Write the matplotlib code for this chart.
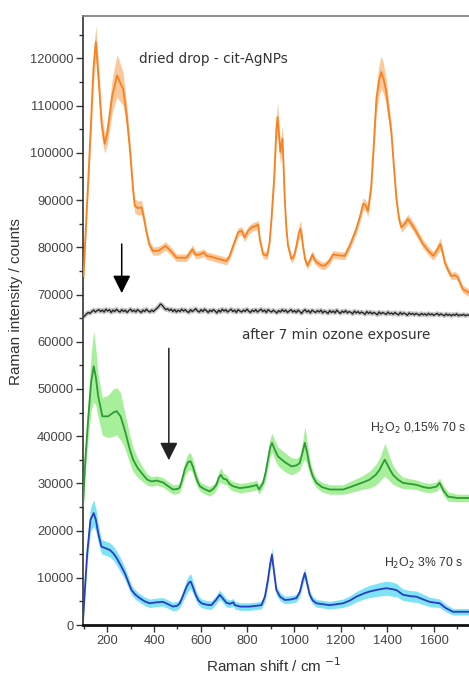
import numpy as np
import matplotlib
matplotlib.use("Agg")
import matplotlib.pyplot as plt
from matplotlib.ticker import MultipleLocator

# ---- spectra: Raman shift (cm-1), mean intensity (counts), half-width of shaded band ----
cit_shift = [97, 124, 140, 150, 160, 175, 188, 200, 220, 241, 255, 267, 282, 296, 310, 317, 330, 346,
             357, 367, 380, 395, 420, 449, 470, 496, 539, 564, 578, 595, 613, 625, 645, 680, 710, 724,
             740, 760, 775, 788, 803, 820, 839, 846, 853, 867, 884, 895, 903, 915, 924, 929, 934, 941,
             950, 955, 960, 967, 974, 989, 1000, 1010, 1020, 1027, 1033, 1038, 1047, 1057, 1068, 1079,
             1088, 1098, 1115, 1131, 1150, 1167, 1190, 1217, 1240, 1267, 1283, 1296, 1305, 1317, 1331,
             1342, 1353, 1365, 1374, 1383, 1393, 1405, 1417, 1428, 1439, 1450, 1460, 1475, 1488, 1500,
             1517, 1535, 1553, 1575, 1596, 1612, 1627, 1637, 1646, 1660, 1674, 1690, 1703, 1715, 1724, 1750]
cit_counts = [73900, 100800, 118000, 123500, 117000, 106000, 101900, 104500, 112000, 116400, 114800,
              113600, 108000, 100800, 92000, 88800, 88300, 88500, 86000, 83200, 80500, 79200, 79300,
              80300, 79300, 77800, 77800, 79600, 78400, 78500, 78900, 78200, 78000, 77500, 77100, 78200,
              80500, 83200, 83500, 82100, 83500, 84300, 84600, 84800, 81700, 78500, 78200, 81000, 86000,
              95000, 105000, 107600, 104500, 100200, 103000, 97000, 90200, 84000, 80300, 77500, 78200,
              80300, 83000, 83900, 82500, 80300, 77500, 76100, 77200, 78500, 77300, 76800, 76200, 76100,
              77000, 78500, 78300, 78200, 80500, 83900, 86600, 89200, 89000, 87700, 93000, 102000,
              111500, 115500, 117100, 115800, 113600, 109000, 104400, 97000, 90200, 86000, 84200, 85000,
              86000, 85200, 83900, 82300, 80700, 79300, 78200, 79300, 80700, 78900, 76800, 75200, 73900,
              74100, 73600, 72000, 71100, 70400]
cit_sd = [1500, 2500, 3200, 3500, 3200, 2500, 2000, 2500, 3500, 4500, 4000, 3500, 2500, 2000, 1500,
          1500, 1500, 1500, 1200, 1000, 900, 900, 900, 900, 900, 800, 800, 900, 800, 800, 800, 800, 800,
          800, 800, 800, 800, 900, 900, 900, 900, 900, 900, 900, 900, 800, 800, 900, 1200, 2000, 2800,
          3200, 2800, 2500, 2600, 2000, 1500, 1200, 900, 800, 800, 900, 1500, 1800, 1400, 1000, 800,
          800, 800, 800, 800, 800, 800, 800, 800, 800, 800, 800, 900, 1000, 1100, 1200, 1200, 1200,
          1500, 2200, 3000, 3300, 3500, 3200, 2800, 2200, 1800, 1400, 1200, 1000, 1000, 1000, 1000,
          1000, 1000, 900, 900, 900, 900, 1000, 1300, 1000, 900, 800, 800, 800, 800, 800, 800, 800]

# ozone-exposed spectrum (hundreds of counts), sampled evenly from 95 to 1750 cm-1
ozone_hundreds = [652, 655, 659, 662, 660, 664, 667, 663, 666, 668, 664, 667, 663, 669, 665, 668, 662, 667, 664, 669,
                  665, 663, 668, 664, 667, 662, 666, 669, 664, 667, 663, 668, 665, 662, 667, 664, 669, 665, 663, 667,
                  664, 668, 671, 675, 680, 677, 672, 668, 670, 666, 669, 664, 668, 663, 667, 664, 669, 665, 668, 664,
                  662, 668, 664, 667, 670, 665, 663, 668, 664, 669, 666, 662, 667, 664, 668, 665, 661, 667, 663, 669,
                  665, 668, 663, 666, 669, 664, 667, 662, 668, 665, 663, 667, 664, 669, 665, 662, 667, 664, 668, 663,
                  666, 669, 664, 667, 662, 668, 665, 663, 667, 664, 661, 666, 663, 668, 664, 667, 662, 665, 668, 663,
                  666, 662, 667, 664, 660, 665, 668, 663, 666, 661, 667, 664, 662, 666, 663, 667, 661, 665, 663, 660,
                  666, 662, 665, 661, 667, 663, 660, 665, 662, 666, 661, 664, 662, 659, 665, 661, 664, 660, 663, 661,
                  658, 664, 660, 663, 659, 662, 660, 657, 663, 659, 662, 660, 658, 663, 659, 661, 658, 662, 659, 657,
                  662, 658, 661, 659, 656, 661, 658, 660, 657, 660, 658, 656, 660, 657, 659, 656, 660, 657, 659, 656,
                  658, 660, 656, 659, 657, 655, 659, 656, 658, 655, 658, 656, 659, 655, 657, 656, 658, 655, 657, 656]

h2o2_low_shift = [95, 105, 117, 130, 141, 150, 160, 178, 203, 225, 239, 256, 270, 281, 295, 310, 330,
                  353, 370, 389, 410, 438, 460, 481, 500, 510, 520, 531, 545, 556, 566, 574, 585, 596,
                  615, 638, 655, 667, 677, 686, 697, 710, 723, 738, 767, 800, 830, 839, 850, 867, 878,
                  888, 897, 905, 915, 931, 960, 989, 1010, 1024, 1036, 1046, 1056, 1067, 1080, 1096,
                  1120, 1153, 1210, 1240, 1267, 1300, 1324, 1350, 1367, 1380, 1389, 1400, 1410, 1424,
                  1445, 1467, 1524, 1555, 1581, 1610, 1624, 1640, 1660, 1700, 1750]
h2o2_low_counts = [25100, 35000, 43500, 51500, 54800, 52500, 48500, 44200, 44200, 45000, 45300, 44200,
                   42000, 40000, 37300, 35000, 33200, 31800, 30800, 30400, 30600, 30200, 29400, 28700,
                   28800, 29100, 30800, 32900, 34500, 34700, 33600, 32200, 30500, 29400, 28800, 28300,
                   28900, 29700, 31200, 31800, 31000, 30800, 29900, 29400, 29000, 29200, 29500, 29700,
                   28700, 30100, 32300, 35000, 37500, 38600, 37400, 35700, 34500, 33600, 33800, 34300,
                   36500, 38600, 36500, 33600, 31500, 30100, 29200, 28700, 28700, 29200, 29700, 30300,
                   30800, 31800, 32900, 34200, 35000, 34000, 33000, 31800, 30800, 30100, 29700, 29200,
                   29000, 29300, 30100, 28500, 27200, 26900, 26900]
h2o2_low_sd = [1500, 2500, 4000, 6000, 7500, 6000, 4500, 4000, 4500, 5000, 5000, 5000, 4000, 3500,
               3000, 2500, 2000, 1500, 1200, 1000, 1000, 1000, 1000, 1000, 1000, 1000, 1200, 1500,
               1800, 1800, 1500, 1300, 1200, 1000, 1000, 1000, 1000, 1000, 1200, 1500, 1200, 1000,
               1000, 1000, 1000, 1000, 1000, 1000, 1000, 1000, 1500, 1800, 2000, 2000, 2000, 2000,
               2000, 1800, 1500, 1500, 2000, 3500, 2500, 1500, 1200, 1000, 1000, 1000, 1000, 1200,
               1300, 1500, 1800, 2200, 2500, 3000, 3500, 3000, 2500, 2000, 1500, 1200, 1000, 1000,
               1000, 1000, 1000, 1000, 1000, 800, 800]

h2o2_high_shift = [95, 105, 113, 127, 141, 150, 160, 174, 190, 210, 225, 239, 255, 274, 290, 303, 320,
                   338, 360, 381, 410, 438, 460, 481, 500, 510, 522, 539, 550, 557, 568, 578, 590, 603,
                   625, 645, 665, 681, 695, 710, 725, 740, 746, 770, 810, 860, 875, 888, 897, 905, 912,
                   924, 940, 960, 985, 1010, 1025, 1037, 1046, 1055, 1067, 1080, 1096, 1153, 1210,
                   1240, 1267, 1300, 1324, 1360, 1396, 1420, 1439, 1467, 1500, 1524, 1555, 1581, 1624,
                   1650, 1681, 1750]
h2o2_high_counts = [800, 9000, 15200, 22300, 23700, 22300, 19500, 16600, 16300, 15900, 15200, 14200,
                    12800, 11000, 9000, 7400, 6400, 5700, 5000, 4600, 4800, 4900, 4400, 3900, 4100,
                    4600, 6000, 8100, 9000, 9200, 7800, 6400, 5200, 4600, 4300, 4200, 5300, 6400, 5600,
                    4700, 4500, 4800, 4200, 3900, 3900, 4200, 6000, 9600, 12800, 14900, 12000, 7400,
                    6000, 5300, 5400, 5700, 7000, 9500, 11000, 9000, 6400, 5200, 4600, 4200, 4600,
                    5200, 6000, 6700, 7100, 7500, 7800, 7600, 7400, 6400, 6100, 6000, 5400, 4900, 4600,
                    3600, 2800, 2800]
h2o2_high_sd = [300, 1500, 2000, 2500, 2800, 2500, 2000, 1500, 1500, 1500, 1500, 1500, 1500, 1300,
                1200, 1000, 1000, 900, 900, 900, 900, 900, 900, 900, 900, 900, 1100, 1500, 1600, 1600,
                1300, 1100, 1000, 900, 900, 900, 900, 1000, 900, 900, 800, 800, 800, 800, 800, 800,
                1000, 1200, 1300, 1400, 1200, 1000, 900, 800, 800, 800, 900, 1000, 1100, 1000, 900,
                800, 800, 800, 900, 1000, 1100, 1200, 1300, 1400, 1500, 1500, 1400, 1200, 1200, 1200,
                1100, 1000, 900, 800, 700, 700]

x_ticks = [200, 400, 600, 800, 1000, 1200, 1400, 1600]

# ---- figure ----
W, H = 469, 674
fig = plt.figure(figsize=(W / 100, H / 100), dpi=100)
ax = fig.add_axes([83 / W, (H - 625) / H, 1 - 83 / W, (625 - 16) / H])
ax.set_xlim(95, 1750)
ax.set_ylim(0, 129000)

def band(shift, counts, sd, line_c, fill_c, lw=1.3):
    s = np.asarray(shift, float)
    c = np.asarray(counts, float)
    d = np.asarray(sd, float)
    ax.fill_between(s, c - d, c + d, color=fill_c, lw=0, zorder=2)
    ax.plot(s, c, color=line_c, lw=lw, zorder=3)

band(cit_shift, cit_counts, cit_sd, "#f7821f", "#fcc79a")
band(h2o2_low_shift, h2o2_low_counts, h2o2_low_sd, "#2e9b34", "#a8ef9c")
band(h2o2_high_shift, h2o2_high_counts, h2o2_high_sd, "#2a3cc4", "#7fe3f6")

ozone_counts = np.asarray(ozone_hundreds, float) * 100
ozone_shift = np.linspace(95, 1750, len(ozone_counts))
ax.plot(ozone_shift, ozone_counts, color="#8c8c8c", lw=3.2, alpha=0.5, zorder=3)
ax.plot(ozone_shift, ozone_counts, color="#262626", lw=1.0, zorder=4)

# arrows
arrow = dict(arrowstyle="-|>,head_length=0.6,head_width=0.3", color="black", lw=1.1,
             mutation_scale=18, shrinkA=0, shrinkB=0)
ax.annotate("", xy=(261, 70300), xytext=(261, 80700), arrowprops=arrow, zorder=6)
ax.annotate("", xy=(463, 34900), xytext=(463, 58600), arrowprops=dict(arrow, color="#222222"), zorder=6)

# labels on the traces
txt = "#333333"
ax.text(335, 119800, "dried drop - cit-AgNPs", fontsize=9.8, color=txt, family="DejaVu Sans",
        ha="left", va="center")
ax.text(777, 61400, "after 7 min ozone exposure", fontsize=9.8, color=txt, family="DejaVu Sans",
        ha="left", va="center")
ax.text(1740, 41600, "H$_2$O$_2$ 0,15% 70 s", fontsize=8.8, color=txt, family="Liberation Sans",
        ha="right", va="center")
ax.text(1728, 13100, "H$_2$O$_2$ 3% 70 s", fontsize=8.8, color=txt, family="Liberation Sans",
        ha="right", va="center")

# axes styling
ax.spines["right"].set_visible(False)
ax.spines["top"].set_color("#7a7a7a")
ax.spines["top"].set_linewidth(1.2)
ax.spines["left"].set_color("#333333")
ax.spines["left"].set_linewidth(1.2)
ax.spines["bottom"].set_color("#111111")
ax.spines["bottom"].set_linewidth(2.0)

ax.set_xticks(x_ticks)
ax.xaxis.set_minor_locator(MultipleLocator(100))
ax.yaxis.set_major_locator(MultipleLocator(10000))
ax.yaxis.set_minor_locator(MultipleLocator(5000))
ax.tick_params(axis="both", which="major", direction="out", length=5, width=1, color="#333333",
               labelsize=9.3, labelcolor="#444444", pad=2)
ax.tick_params(axis="both", which="minor", direction="out", length=3, width=1, color="#333333")
ax.tick_params(top=False, right=False, which="both")
for lab in ax.get_xticklabels() + ax.get_yticklabels():
    lab.set_family("Liberation Sans")

fig.text(16.5 / W, (H - 302) / H, "Raman intensity / counts", rotation=90, ha="center", va="center",
         fontsize=11, color="#333333", family="Liberation Sans")
fig.text(274 / W, (H - 666) / H, "Raman shift / cm $^{-1}$", ha="center", va="center",
         fontsize=11, color="#333333", family="Liberation Sans")

fig.savefig("out.png", dpi=100)
